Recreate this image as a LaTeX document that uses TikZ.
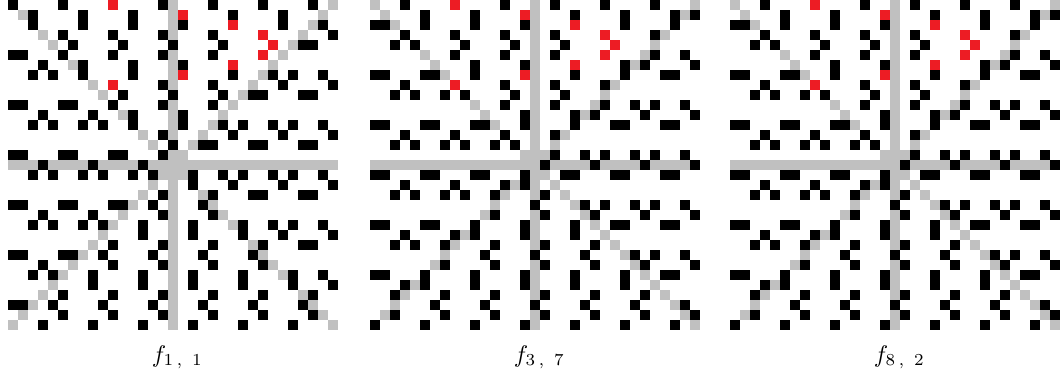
\documentclass[tikz,border=0pt]{standalone}
\definecolor{axisgray}{RGB}{192,192,192}
\definecolor{cellred}{RGB}{237,28,36}
\tikzset{
  graycell/.style={fill=axisgray},
  blackcell/.style={fill=black},
  redcell/.style={fill=cellred},
  panellabel/.style={anchor=base west, inner sep=0pt}
}
% #1 = x offset of the panel, #2 = rows of black cells, #3 = red cells (row/col)
\newcommand\pixgrid[3]{%
  \foreach \i in {0,...,32}{
    \fill[graycell] ({#1+10*\i},160) rectangle ++(10,10);
    \fill[graycell] ({#1+160},{10*\i}) rectangle ++(10,10);
    \fill[graycell] ({#1+10*\i},{10*\i}) rectangle ++(10,10);
    \fill[graycell] ({#1+320-10*\i},{10*\i}) rectangle ++(10,10);
  }
  \foreach \r/\cs in {#2}{\foreach \c in \cs {\fill[blackcell] ({#1+10*\c},{10*\r}) rectangle ++(10,10);}}
  \foreach \r/\c in {#3}{\fill[redcell] ({#1+10*\c},{10*\r}) rectangle ++(10,10);}
}
\newcommand\fsub[2]{$f_{#1\mkern3mu,\mkern9mu#2}$}
\begin{document}
\begin{tikzpicture}[x=0.4167pt, y=-0.4167pt]
\useasboundingbox (0,0) rectangle (1060,377);
% panel 1
\pixgrid{8}{%
0/{0,5,15,20,25,30},
1/{2,7,12,22,27},
2/{2,7,12,17,27,31},
3/{5,10,15,20,32},
4/{6,11,16,21,29,30},
5/{0,1,5,10,15,20},
6/{3,7,12,17},
7/{2,4,7,12,22,26,28,31},
8/{15,20,27,32},
9/{11,16,21,24,25,29,30},
10/{0,1,5,6,10,15,20},
11/{3,8,12,17},
12/{2,4,7,9,12,17,21,23,26,28,31},
13/{15,22,27,32},
14/{16,19,20,24,25,29,30},
15/{0,1,5,6,10,11,15},
16/{3,8,13},
17/{2,4,7,9,12,14,18,21,23,26,28,31},
18/{18,22,27,32},
19/{15,20,24,25,29,30},
20/{0,1,5,6,10,11,14,19},
21/{3,8,15,20},
22/{2,4,7,9,13,18,23,26,28,31},
23/{13,18,23,27,32},
24/{10,15,20,25,29,30},
25/{0,1,5,6,9,14,19,24},
26/{3,10,15,20,25},
27/{2,4,8,13,18,23,28,31},
28/{8,13,18,23,28,32},
29/{5,10,15,20,25,30},
30/{0,1,4,9,14,19,24,29},
31/{5,10,15,20,25,30},
32/{3,8,13,18,23,28}}{%
0/10,8/10,1/17,7/17,2/22,6/22,3/25,5/25,4/26}
% panels 2 and 3 (identical patterns)
\foreach \px in {370,730}{
\pixgrid{\px}{%
0/{3,13,18,23,28},
1/{5,10,20,25,30,32},
2/{0,1,5,10,15,25,30},
3/{3,8,13,18,28},
4/{2,4,9,14,19},
5/{8,13,18,28,31},
6/{10,15,25,27,32},
7/{0,1,5,6,10,20,25,29,30},
8/{3,13,18,23},
9/{2,4,7,9,14,19},
10/{13,18,23,26,28,31},
11/{15,20,22,27,32},
12/{0,1,5,6,10,11,15,20,24,25,29,30},
13/{3,8,13,18},
14/{2,4,7,9,12,14},
15/{18,21,23,26,28,31},
16/{17,22,27,32},
17/{0,1,5,6,10,11,15,19,20,24,25,29,30},
18/{3,8,13,15},
19/{2,4,7,9,12,17},
20/{16,21,23,26,28,31},
21/{12,17,22,27,32},
22/{0,1,5,6,10,15,20,24,25,29,30},
23/{3,8,10,15,20},
24/{2,4,7,12,17,22},
25/{11,16,21,26,28,31},
26/{7,12,17,22,27,32},
27/{0,1,5,10,15,20,25,29,30},
28/{3,5,10,15,20,25},
29/{2,7,12,17,22,27},
30/{6,11,16,21,26,31},
31/{2,7,12,17,22,27,32},
32/{0,5,10,15,20,25,30}}{%
0/8,8/8,1/15,7/15,2/20,6/20,3/23,5/23,4/24}
}
\node[panellabel] (lab1) at (151.5,362) {\fsub{1}{1}};
\node[panellabel] (lab2) at (513.5,362) {\fsub{3}{7}};
\node[panellabel] (lab3) at (873.5,362) {\fsub{8}{2}};
\end{tikzpicture}
\end{document}
